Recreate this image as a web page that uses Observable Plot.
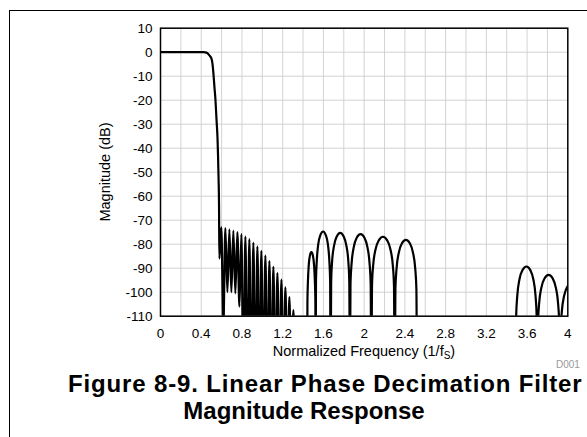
<!DOCTYPE html>
<html><head><meta charset="utf-8">
<script src="https://cdn.jsdelivr.net/npm/d3@7"></script>
<script src="https://cdn.jsdelivr.net/npm/@observablehq/plot@0.6"></script>
<style>
html,body{margin:0;padding:0;background:#fff}
body{width:587px;height:437px;overflow:hidden;position:relative;font-family:"Liberation Sans",Arial,sans-serif}
#frame{position:absolute;left:9px;top:10px;width:800px;height:600px;border-left:1.5px solid #000;border-top:1.5px solid #000;box-sizing:border-box}
#chart{position:absolute;left:0;top:0}
#ylab{position:absolute;left:105px;top:172px;transform:translate(-50%,-50%) rotate(-90deg);font-size:14.5px;white-space:nowrap}
#xlab{position:absolute;left:364px;top:351px;transform:translate(-50%,-50%);font-size:14.5px;white-space:nowrap}
#xlab sub{font-size:10px;vertical-align:-3px;line-height:0}
#code{position:absolute;left:556px;top:359px;font-size:10px;color:#999;white-space:nowrap}
.t{position:absolute;font-weight:bold;font-size:24px;line-height:28px;white-space:nowrap}
#t1{left:68px;top:370px;letter-spacing:0.85px}
#t2{left:304px;top:397px;transform:translateX(-50%)}
</style></head>
<body>
<div id="frame"></div>
<div id="chart"></div>
<div id="ylab">Magnitude (dB)</div>
<div id="xlab">Normalized Frequency (1/f<sub>S</sub>)</div>
<div id="code">D001</div>
<div class="t" id="t1">Figure 8-9. Linear Phase Decimation Filter</div>
<div class="t" id="t2">Magnitude Response</div>
<script>
const xTicks = [0, 0.4, 0.8, 1.2, 1.6, 2, 2.4, 2.8, 3.2, 3.6, 4];
const xGrid = [0.2, 0.4, 0.6, 0.8, 1, 1.2, 1.4, 1.6, 1.8, 2, 2.2, 2.4, 2.6, 2.8, 3, 3.2, 3.4, 3.6, 3.8];
const yTicks = [10, 0, -10, -20, -30, -40, -50, -60, -70, -80, -90, -100, -110];

// passband and transition band
const passF  = [0, 0.2, 0.42, 0.44, 0.46, 0.48, 0.50, 0.51, 0.52, 0.53, 0.54, 0.55, 0.56, 0.565, 0.57, 0.575, 0.578];
const passDb = [0, 0, 0, -0.05, -0.4, -1.3, -2.6, -4.7, -9, -14.6, -20, -28, -36, -43, -52, -65, -86];

// dense stopband lobes (peak / null alternating)
const lobeF  = [0.5975, 0.617, 0.637, 0.657, 0.6765, 0.696, 0.7155, 0.735, 0.755, 0.775, 0.7945, 0.814, 0.8335, 0.853, 0.8725, 0.892, 0.912, 0.932, 0.9515, 0.971, 0.9905, 1.010, 1.030, 1.050, 1.0695, 1.089, 1.1085, 1.128, 1.148, 1.168, 1.1875, 1.207, 1.2265, 1.246, 1.2655, 1.285, 1.305, 1.325];
const lobeDb = [-73, -115, -73.3, -100, -73.8, -100, -74.3, -100.5, -75, -106, -75.8, -140, -76.8, -140, -77.9, -140, -79.3, -140, -80.9, -140, -82.8, -140, -84.8, -140, -87, -140, -89.4, -140, -92, -140, -94.8, -140, -98, -140, -102, -140, -107.5, -140];

// wide lobes 1.44 – 2.52
const archF  = [1.441, 1.443, 1.448, 1.456, 1.467, 1.482, 1.497, 1.508, 1.516, 1.521,
  1.523, 1.527, 1.535, 1.549, 1.570, 1.597, 1.623, 1.644, 1.658, 1.666,
  1.670, 1.676, 1.685, 1.704, 1.731, 1.765, 1.799, 1.826, 1.845, 1.854,
  1.860, 1.866, 1.877, 1.898, 1.927, 1.965, 2.003, 2.032, 2.053, 2.064,
  2.070, 2.077, 2.088, 2.111, 2.144, 2.185, 2.226, 2.259, 2.282, 2.293,
  2.300, 2.307, 2.318, 2.340, 2.370, 2.410, 2.450, 2.480, 2.502, 2.513, 2.520];
const archDb = [-140, -103.8, -95.4, -88.7, -84.8, -83.3, -84.8, -88.7, -95.4, -103.8,
  -140, -95.2, -86.8, -80.1, -76.2, -74.7, -76.2, -80.1, -86.8, -95.2,
  -140, -95.8, -87.4, -80.7, -76.8, -75.3, -76.8, -80.7, -87.4, -95.8,
  -140, -96.3, -87.9, -81.2, -77.3, -75.8, -77.3, -81.2, -87.9, -96.3,
  -140, -97.4, -89.0, -82.3, -78.4, -76.9, -78.4, -82.3, -89.0, -97.4,
  -140, -98.7, -90.3, -83.6, -79.7, -78.2, -79.7, -83.6, -90.3, -98.7, -140];

// lobes near 3.5 – 4
const highF  = [3.487, 3.493, 3.504, 3.525, 3.555, 3.594, 3.632, 3.662, 3.683, 3.694,
  3.700, 3.707, 3.718, 3.740, 3.771, 3.812, 3.852, 3.883, 3.905, 3.916,
  3.923, 3.930, 3.941, 3.964, 3.997, 4.038, 4.079];
const highDb = [-140, -109.8, -101.4, -94.7, -90.8, -89.3, -90.8, -94.7, -101.4, -109.8,
  -140, -113.3, -104.9, -98.2, -94.3, -92.8, -94.3, -98.2, -104.9, -113.3,
  -140, -116.6, -108.2, -101.5, -97.6, -96.1, -97.6];

const F = [...passF, ...lobeF, ...archF, ...highF];
const D = [...passDb, ...lobeDb, ...archDb, ...highDb];
const data = F.map((f, i) => ({f, db: D[i]}));

const H = 372;
const chart = Plot.plot({
  width: 587, height: H,
  marginLeft: 160, marginRight: 19.7, marginTop: 27.7, marginBottom: H - 315.7,
  style: {fontFamily: '"Liberation Sans", Arial, sans-serif', fontSize: "13.5px", background: "transparent"},
  x: {domain: [0, 4], label: null},
  y: {domain: [-110, 10], label: null},
  marks: [
    Plot.gridX(xGrid, {stroke: "#d3d3d3", strokeOpacity: 1, strokeWidth: 1}),
    Plot.gridY(yTicks, {stroke: "#d3d3d3", strokeOpacity: 1, strokeWidth: 1}),
    Plot.axisX(xTicks, {tickSize: 0, tickPadding: 12, fontSize: 13.5, tickFormat: d => String(d), label: null, fill: "#000"}),
    Plot.axisY(yTicks, {tickSize: 0, tickPadding: 8, fontSize: 13.5, tickFormat: d => String(d), label: null, fill: "#000"}),
    Plot.line(data, {x: "f", y: "db", curve: "monotone-x", stroke: "#000", strokeWidth: 2.2, clip: true}),
    Plot.frame({stroke: "#000", strokeWidth: 1.5})
  ]
});
document.getElementById("chart").appendChild(chart);
</script>
</body></html>
